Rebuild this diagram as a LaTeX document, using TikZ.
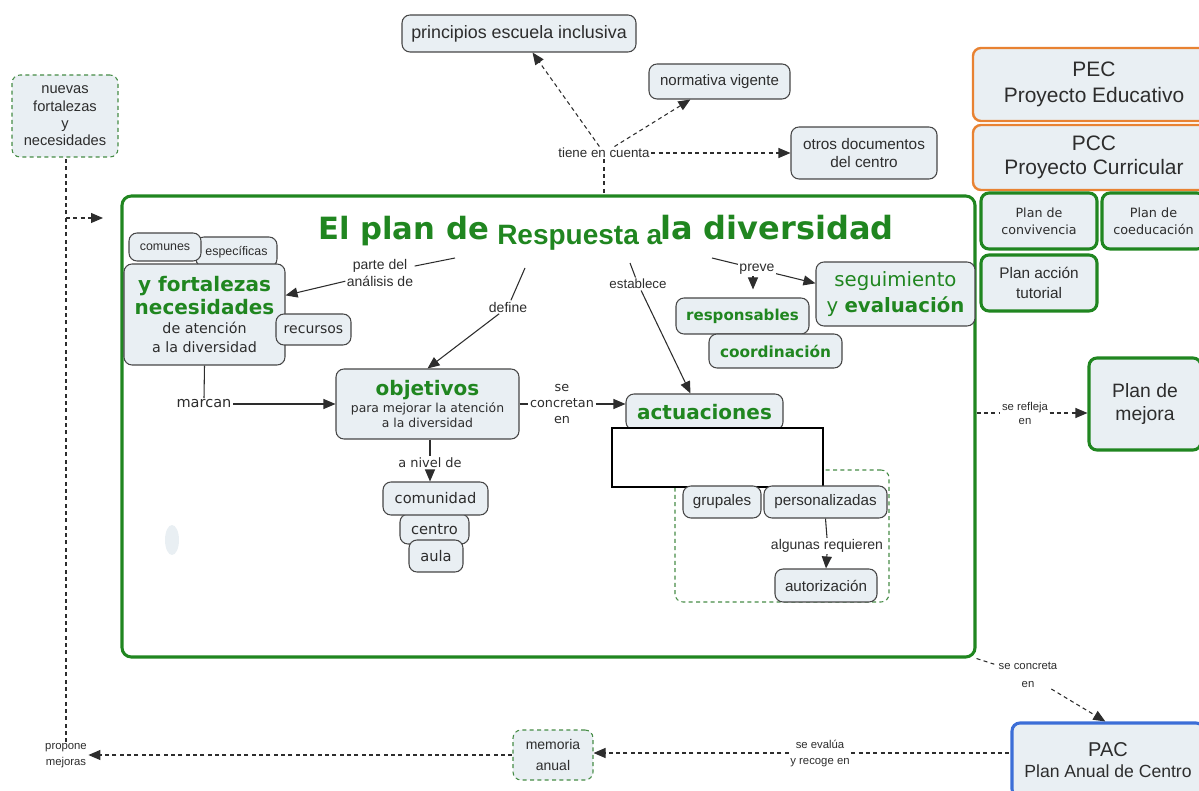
\documentclass[tikz,border=0pt]{standalone}
\usepackage{fontspec}
\setmainfont{Liberation Sans}
\newfontfamily\dv{DejaVu Sans}
\usetikzlibrary{arrows.meta}
\definecolor{cgreen}{RGB}{32,134,32}
\definecolor{cfill}{RGB}{233,239,243}
\definecolor{ctext}{RGB}{45,45,45}
\definecolor{cborder}{RGB}{70,70,70}
\definecolor{corange}{RGB}{232,130,50}
\definecolor{cblue}{RGB}{60,110,215}
\definecolor{cdash}{RGB}{70,140,70}
\newcommand\fsz[2]{\fontsize{#1pt}{#2pt}\selectfont}
\begin{document}
\begin{tikzpicture}[x=0.75pt,y=-0.75pt,
  sz/.style 2 args={minimum width=#1*0.75pt,minimum height=#2*0.75pt},
  concept/.style={draw=cborder,fill=cfill,rounded corners=6pt,line width=0.8pt,inner sep=0pt,align=center,text=ctext},
  gplan/.style={concept,draw=cgreen,line width=2.3pt},
  oplan/.style={concept,draw=corange,line width=1.8pt},
  bplan/.style={concept,draw=cblue,line width=2.3pt},
  dconcept/.style={concept,draw=cdash,dash pattern=on 3pt off 2.5pt},
  lbl/.style={inner sep=1pt,align=center,text=ctext},
  ln/.style={draw=ctext,line width=0.8pt},
  arr/.style={ln,-{Triangle[length=9pt,width=7.5pt]}},
  dln/.style={ln,dash pattern=on 3pt off 2.5pt},
  darr/.style={arr,dash pattern=on 3pt off 2.5pt},
]
\useasboundingbox (0,0) rectangle (1199,791);
\clip (0,0) rectangle (1199,791);

% faint mark
\fill[cfill] (172,540) ellipse [x radius=5.25pt, y radius=11.25pt];

% big frame
\node[draw=cgreen,line width=2.3pt,rounded corners=7pt,sz={853}{461},inner sep=0pt] (big) at (548.5,426.5) {};

% title
\node[anchor=base west,inner sep=0pt,text=cgreen,font=\dv\bfseries\fsz{23}{27}] (ta1) at (318,240) {El plan de};
\node[anchor=base west,inner sep=0pt,text=cgreen,font=\dv\bfseries\fsz{24}{28}] (ta3) at (660,240) {la diversidad};
\node[anchor=base west,inner sep=0pt,text=cgreen,font=\bfseries\fsz{21}{25}] (ta2) at (497,245) {Respuesta a};
\coordinate (ca) at (455,258);
\coordinate (cb) at (525,268);
\coordinate (cc) at (630,263);
\coordinate (cd) at (712,258);

% left outside
\node[dconcept,sz={106}{82},font=\fsz{11}{13}] (nuevas) at (65,116) {nuevas\\fortalezas\\y\\necesidades};

% necesidades group
\node[concept,sz={81}{30},font=\fsz{9.3}{11}] (esp) at (236.5,252) {específicas};
\node[concept,sz={72}{28},font=\fsz{9.3}{11}] (com) at (165,247) {comunes};
\node[concept,sz={161}{101},font=\dv\fsz{10.7}{14.25}] (nec) at (204.5,314.5) {{\bfseries\color{cgreen}\fsz{15}{18}y fortalezas}\\[2pt]{\bfseries\color{cgreen}\fsz{15}{18}necesidades}\\de atención\\a la diversidad};
\node[concept,sz={75}{31},font=\dv\fsz{10.5}{12}] (rec) at (313.5,329.5) {recursos};

% objetivos
\node[concept,sz={183}{70},font=\dv\fsz{9.3}{11.25}] (obj) at (427.5,404) {{\bfseries\color{cgreen}\fsz{15}{18}objetivos}\\[1pt]para mejorar la atención\\a la diversidad};
\node[concept,sz={69}{30},font=\dv\fsz{11}{13}] (cen) at (434.5,529) {centro};
\node[concept,sz={105}{33},font=\dv\fsz{11}{13}] (comu) at (435.5,498.5) {comunidad};
\node[concept,sz={54}{32},font=\dv\fsz{11}{13}] (aula) at (436,556) {aula};

% actuaciones
\node[concept,sz={157}{36},font=\dv\bfseries\fsz{15}{18},text=cgreen] (act) at (704.5,412) {actuaciones};
\node[draw=cdash,dash pattern=on 3pt off 2.5pt,line width=0.8pt,rounded corners=6pt,sz={214}{132},inner sep=0pt] (grp) at (782,536) {};
\node[draw=black,fill=white,line width=1.5pt,sz={211}{59},inner sep=0pt] (blank) at (717.5,457.5) {};
\node[concept,sz={78}{32},font=\fsz{11.4}{13}] (grup) at (722,502) {grupales};
\node[concept,sz={123}{32},font=\fsz{11.4}{13}] (pers) at (825.5,502) {personalizadas};
\node[concept,sz={102}{33},font=\fsz{11.4}{13}] (aut) at (826,585.5) {autorización};
\node[lbl,font=\fsz{10.5}{12}] (alg) at (827,546) {algunas requieren};

% seguimiento
\node[concept,sz={159}{64},font=\dv\fsz{14.8}{19.5},text=cgreen] (seg) at (895.5,294) {seguimiento\\y \textbf{evaluación}};
\node[concept,sz={133}{36},font=\dv\bfseries\fsz{11.3}{13},text=cgreen] (resp) at (742.5,316) {responsables};
\node[concept,sz={133}{34},font=\dv\bfseries\fsz{11.5}{13},text=cgreen] (coord) at (775.5,351) {coordinación};

% top
\node[concept,sz={234}{37},font=\fsz{13.4}{15}] (princ) at (519,33.5) {principios escuela inclusiva};
\node[concept,sz={141}{35},font=\fsz{11.3}{13}] (norm) at (719.5,81.5) {normativa vigente};
\node[concept,sz={146}{52},font=\fsz{11.5}{13}] (otros) at (864,153) {otros documentos\\del centro};
\node[lbl,font=\fsz{10}{12}] (tiene) at (604,153) {tiene en cuenta};

% right column
\node[oplan,sz={242}{73},font=\fsz{15.7}{19.5}] (pec) at (1094,84.5) {PEC\\Proyecto Educativo};
\node[oplan,sz={242}{65},font=\fsz{15.7}{18}] (pcc) at (1094,157.5) {PCC\\Proyecto Curricular};
\node[gplan,sz={116}{56},font=\dv\fsz{9.5}{12.75}] (conv) at (1039,221) {Plan de\\convivencia};
\node[gplan,sz={103}{56},font=\dv\fsz{9.6}{12.75}] (coed) at (1153.5,221) {Plan de\\coeducación};
\node[gplan,sz={116}{56},font=\fsz{11.5}{14.5}] (tut) at (1039,283) {Plan acción\\tutorial};
\node[gplan,sz={112}{92},font=\fsz{14.5}{17}] (mej) at (1145,404) {Plan de\\mejora};
\node[lbl,font=\fsz{8.5}{10.5}] (refleja) at (1025,413) {se refleja\\en};

% bottom
\node[bplan,sz={192}{74}] (pac) at (1108,760) {{\fsz{15}{18}PAC}\\[4pt]{\fsz{13.2}{15}Plan Anual de Centro}};
\node[lbl,font=\fsz{8.5}{13}] (concreta) at (1028,675) {se concreta\\en};
\node[lbl,font=\fsz{8.5}{12}] (eval) at (820,753) {se evalúa\\y recoge en};
\node[dconcept,sz={80}{50},font=\fsz{10.5}{15.5}] (mem) at (553,755) {memoria\\anual};
\node[lbl,font=\fsz{8.5}{12}] (prop) at (66,756) {propone\\mejoras};
\coordinate (j) at (66,218);
\coordinate (jt) at (103,218);

% inner labels
\node[lbl,font=\fsz{10.5}{12.75}] (parte) at (380,273) {parte del\\análisis de};
\node[lbl,font=\fsz{10.5}{12}] (define) at (508,307) {define};
\node[lbl,font=\fsz{10}{12}] (establece) at (638,284) {establece};
\node[lbl,font=\fsz{10.5}{12}] (preve) at (757,269) {preve};
\node[lbl,font=\dv\fsz{10.9}{13}] (marcan) at (204,404) {marcan};
\node[lbl,font=\dv\fsz{9.6}{12}] (concretan) at (562,404) {se\\concretan\\en};
\node[lbl,font=\dv\fsz{9.7}{12}] (anivel) at (430,463) {a nivel de};

% connectors
\draw[dln] (tiene.south) -- (tiene.south |- big.north);
\draw[darr] (tiene) -- (princ);
\draw[darr] (tiene) -- (norm);
\draw[darr] (tiene) -- (otros);

\draw[ln] (ca) -- (parte);
\draw[arr] (parte) -- (nec);
\draw[ln] (cb) -- (define);
\draw[arr] (define) -- (obj.north);
\draw[ln] (cc) -- (establece);
\draw[arr] (establece) -- ([xshift=-10.5pt]act.north);
\draw[ln] (cd) -- (preve);
\draw[arr] (preve) -- ([yshift=8pt]seg.west);
\draw[arr] ([xshift=-3pt]preve.south) -- ([xshift=-3pt,yshift=6pt]preve.south |- resp.north);

\draw[ln] (nec.south) -- (marcan.north);
\draw[arr] (marcan.east) -- (marcan.east -| obj.west);
\draw[ln] (obj.east) -- (obj.east -| concretan.west);
\draw[arr] (concretan.east) -- (concretan.east -| act.west);
\draw[ln] (obj.south -| anivel.north) -- (anivel.north);
\draw[arr] (anivel.south) -- (anivel.south |- comu.north);
\draw[ln] (pers.south) -- (alg.north);
\draw[arr] (alg.south) -- (aut.north);

\draw[dln] (refleja.west -| big.east) -- (refleja.west);
\draw[darr] (refleja.east) -- (refleja.east -| mej.west);
\draw[dln] (big.south east) -- (concreta);
\draw[darr] (concreta) -- ([xshift=-2pt]pac.north);
\draw[dln] (eval.east) -- (eval.east -| pac.west);
\draw[darr] (eval.west) -- (eval.west -| mem.east);
\draw[darr] (mem.west) -- (mem.west -| prop.east);
\draw[dln] (prop.north) -- (prop.north |- nuevas.south);
\draw[darr] (j) -- (jt);
\end{tikzpicture}
\end{document}
